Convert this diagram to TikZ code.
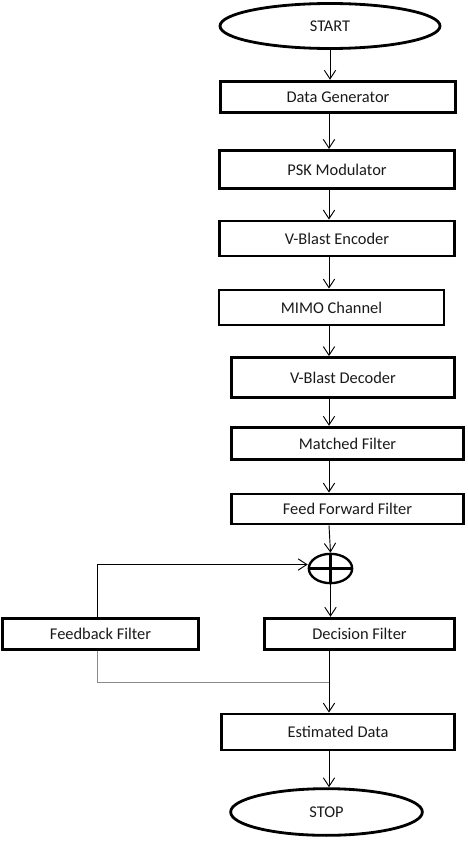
\documentclass[tikz,border=0pt]{standalone}
\usepackage{fontspec}
\setmainfont{Carlito}
\usetikzlibrary{arrows.meta, positioning, shapes.geometric, calc}
\definecolor{inkgray}{HTML}{1A1A1A}
\definecolor{loopgray}{HTML}{8A8A8A}

\begin{document}
\begin{tikzpicture}[
  x=0.03cm, y=-0.03cm,
  >={Straight Barb[length=2.6mm, width=3.4mm]},
  procbox/.style 2 args={
    draw, line width=2.4pt, minimum width=#1, minimum height=#2,
    inner sep=2pt, font=\fontsize{14}{16}\selectfont, text=inkgray
  },
  term/.style 2 args={
    draw, ellipse, line width=2.4pt, minimum width=#1, minimum height=#2,
    inner sep=1pt, font=\fontsize{14}{16}\selectfont, text=inkgray
  },
  arr/.style={->, line width=0.8pt},
  loopline/.style={line width=0.8pt, loopgray},
]

% Canvas
\useasboundingbox (0,0) rectangle (467,841);

% Main line runs down here
\coordinate (spine) at (329,0);

% =============================================
% Transmitter side
% =============================================
\node[term={6.6cm}{1.35cm}] (start) at (330,26) {START};

\node[procbox={7.05cm}{0.95cm}] (datagen) at (338,97) {Data Generator};
\node[procbox={7.05cm}{1.15cm}] (psk) at (337,169.5) {PSK Modulator};
\node[procbox={7.05cm}{1.05cm}] (enc) at (337,238.5) {V-Blast Encoder};
\node[procbox={6.75cm}{1.05cm}] (mimo) at (331.5,307.5) {MIMO Channel};

% =============================================
% Receiver side
% =============================================
\node[procbox={6.7cm}{1.2cm}] (dec) at (343,377.5) {V-Blast Decoder};
\node[procbox={6.95cm}{0.98cm}] (matched) at (347.5,443.5) {Matched Filter};
\node[procbox={6.95cm}{0.9cm}] (ffwd) at (347.5,509) {Feed Forward Filter};

% Summing junction
\node[draw, ellipse, line width=2pt, minimum width=1.3cm, minimum height=0.88cm,
  inner sep=0pt] (sum) at (330.5,568.5) {};
\draw[line width=2pt] (sum.west) -- (sum.east);
\draw[line width=2pt] (sum.north) -- (sum.south);

\node[procbox={5.9cm}{0.95cm}] (fbfilt) at (100.5,634) {Feedback Filter};
\node[procbox={5.7cm}{0.95cm}] (decfilt) at (359.5,634) {Decision Filter};

\node[procbox={7cm}{1.08cm}] (estdata) at (338,732) {Estimated Data};
\node[term={5.75cm}{1.4cm}] (stop) at (326.5,812) {STOP};

% Arrows down the main line
\draw[arr] (start.south) -- (start.south |- datagen.north);
\draw[arr] (spine |- datagen.south) -- (spine |- psk.north);
\draw[arr] (spine |- psk.south) -- (spine |- enc.north);
\draw[arr] (spine |- enc.south) -- (spine |- mimo.north);
\draw[arr] (spine |- mimo.south) -- (spine |- dec.north);
\draw[arr] (spine |- dec.south) -- (spine |- matched.north);
\draw[arr] (spine |- matched.south) -- (spine |- ffwd.north);
\draw[arr] (spine |- ffwd.south) -- (sum.north);
\draw[arr] (sum.south) -- (sum.south |- decfilt.north);
\draw[arr] (spine |- decfilt.south) -- (spine |- estdata.north);
\draw[arr] (spine |- estdata.south) -- (spine |- stop.north);

% Feedback loop
\coordinate (tap) at (329,682);
\draw[loopline] (tap) -| ([xshift=-0.1cm]fbfilt.south);
\draw[arr] ([xshift=-0.1cm]fbfilt.north) |- ([yshift=0.12cm]sum.west);

\end{tikzpicture}
\end{document}
